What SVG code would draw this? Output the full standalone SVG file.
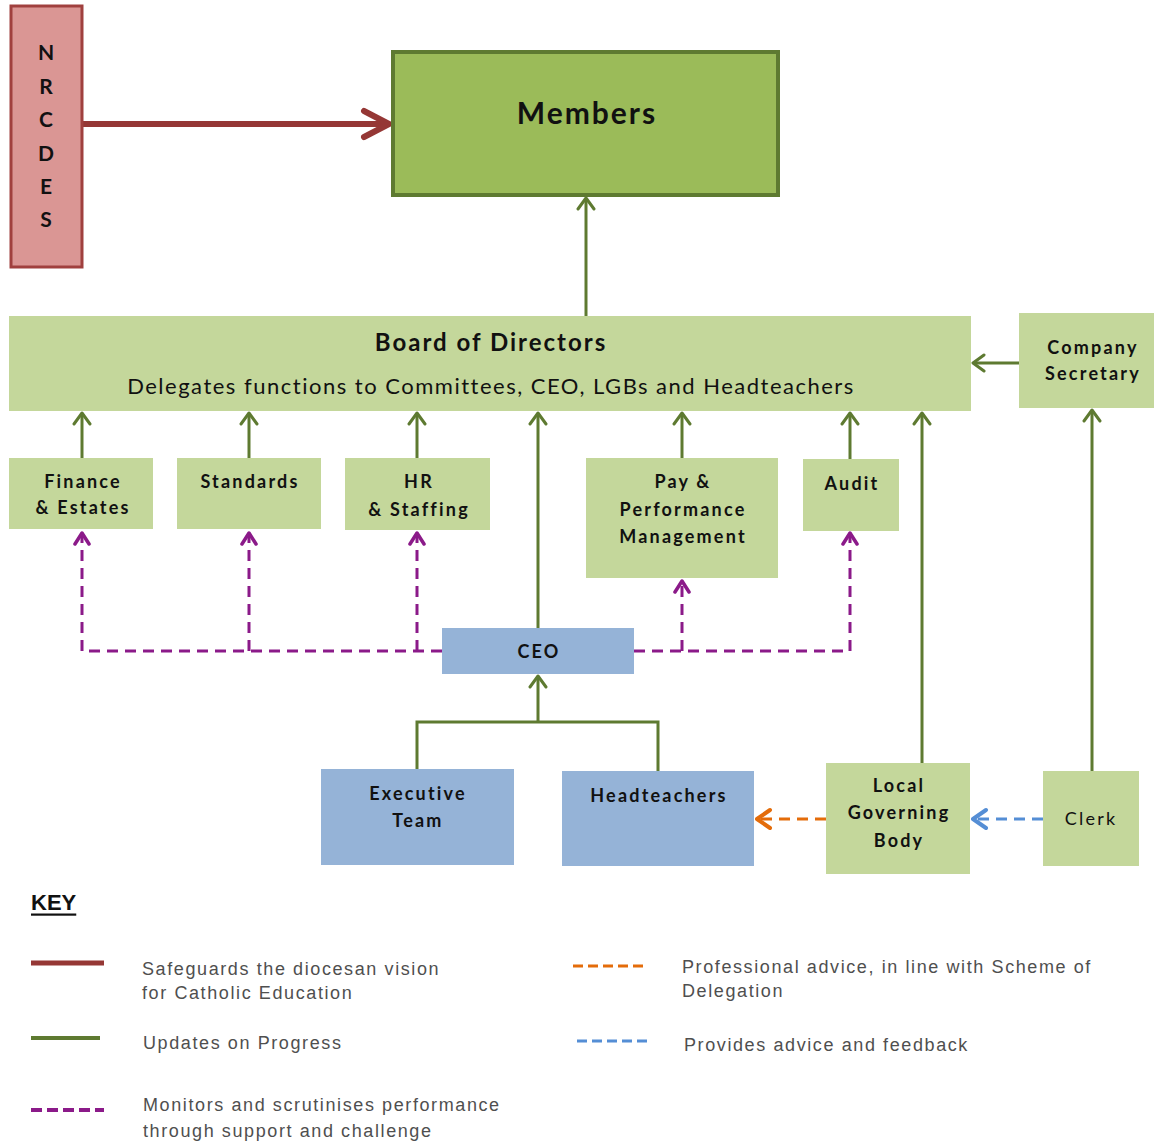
<svg xmlns="http://www.w3.org/2000/svg" width="1154" height="1142" viewBox="0 0 1154 1142">
<style>
.t{font-family:"Lato","Liberation Sans",sans-serif;fill:#111;text-anchor:middle;dominant-baseline:central}
.b{font-weight:bold}
.n{font-size:18px;letter-spacing:2.2px}
.lg{fill:#C4D79B}
.bl{fill:#95B3D7}
.g{stroke:#5E7A31;stroke-width:3;fill:none}
.p{stroke:#8B1A89;stroke-width:3;fill:none;stroke-dasharray:11 7}
.o{stroke:#E46C0A;stroke-width:3;fill:none;stroke-dasharray:11 7}
.u{stroke:#558ED5;stroke-width:3;fill:none;stroke-dasharray:11 7}
.k{font-family:"Liberation Sans",sans-serif;font-size:18px;letter-spacing:1.6px;fill:#4f4f4f;dominant-baseline:central}
</style>
<defs>
<marker id="ag" viewBox="-14 -10 16 20" refX="0" refY="0" markerWidth="16" markerHeight="20" markerUnits="userSpaceOnUse" orient="auto">
<path d="M-11,-8 L0,0 L-11,8" fill="none" stroke="#5E7A31" stroke-width="3" stroke-linecap="round" stroke-linejoin="round"/>
</marker>
<marker id="ap" viewBox="-14 -10 16 20" refX="0" refY="0" markerWidth="16" markerHeight="20" markerUnits="userSpaceOnUse" orient="auto">
<path d="M-11,-7 L0,0 L-11,7" fill="none" stroke="#8B1A89" stroke-width="3.5" stroke-linecap="round" stroke-linejoin="round"/>
</marker>
<marker id="ao" viewBox="-16 -12 18 24" refX="0" refY="0" markerWidth="18" markerHeight="24" markerUnits="userSpaceOnUse" orient="auto">
<path d="M-13,-9 L0,0 L-13,9" fill="none" stroke="#E46C0A" stroke-width="4" stroke-linecap="round" stroke-linejoin="round"/>
</marker>
<marker id="au" viewBox="-16 -12 18 24" refX="0" refY="0" markerWidth="18" markerHeight="24" markerUnits="userSpaceOnUse" orient="auto">
<path d="M-13,-9 L0,0 L-13,9" fill="none" stroke="#558ED5" stroke-width="4" stroke-linecap="round" stroke-linejoin="round"/>
</marker>
<marker id="ar" viewBox="-30 -17 34 34" refX="0" refY="0" markerWidth="34" markerHeight="34" markerUnits="userSpaceOnUse" orient="auto">
<path d="M-26,-13 L-1,0 L-26,13" fill="none" stroke="#953735" stroke-width="6" stroke-linecap="round" stroke-linejoin="round"/>
</marker>
</defs>

<g id="connectors">
<line x1="83" y1="124" x2="390" y2="124" stroke="#953735" stroke-width="6" marker-end="url(#ar)"/>
<line class="g" x1="586" y1="316" x2="586" y2="198" marker-end="url(#ag)"/>
<line class="g" x1="1019" y1="363" x2="973" y2="363" marker-end="url(#ag)"/>
<line class="g" x1="82" y1="458" x2="82" y2="413" marker-end="url(#ag)"/>
<line class="g" x1="249" y1="458" x2="249" y2="413" marker-end="url(#ag)"/>
<line class="g" x1="417" y1="458" x2="417" y2="413" marker-end="url(#ag)"/>
<line class="g" x1="682" y1="458" x2="682" y2="413" marker-end="url(#ag)"/>
<line class="g" x1="850" y1="459" x2="850" y2="413" marker-end="url(#ag)"/>
<line class="g" x1="538" y1="628" x2="538" y2="413" marker-end="url(#ag)"/>
<line class="g" x1="922" y1="763" x2="922" y2="413" marker-end="url(#ag)"/>
<line class="g" x1="1092" y1="771" x2="1092" y2="410" marker-end="url(#ag)"/>
<path class="g" d="M417,769 V722 H658 V771"/>
<line class="g" x1="538" y1="722" x2="538" y2="676" marker-end="url(#ag)"/>
<path class="p" d="M442,651 H82"/>
<path class="p" d="M82,651 V533" marker-end="url(#ap)"/>
<path class="p" d="M249,651 V533" marker-end="url(#ap)"/>
<path class="p" d="M417,651 V533" marker-end="url(#ap)"/>
<path class="p" d="M634,651 H850 V533" marker-end="url(#ap)"/>
<path class="p" d="M682,651 V581" marker-end="url(#ap)"/>
<line class="o" x1="826" y1="819" x2="757" y2="819" marker-end="url(#ao)"/>
<line class="u" x1="1043" y1="819" x2="973" y2="819" marker-end="url(#au)"/>
</g>

<g id="nrcdes">
<rect x="11" y="6" width="71" height="261" fill="#DA9694" stroke="#A0403E" stroke-width="3"/>
<text class="t b" font-size="21" x="46" y="51">N</text>
<text class="t b" font-size="21" x="46" y="85">R</text>
<text class="t b" font-size="21" x="46" y="118">C</text>
<text class="t b" font-size="21" x="46" y="152">D</text>
<text class="t b" font-size="21" x="46" y="185">E</text>
<text class="t b" font-size="21" x="46" y="218">S</text>
</g>

<g id="members">
<rect x="393" y="52" width="385" height="143" fill="#9BBB59" stroke="#5E7A31" stroke-width="4"/>
<text class="t b" font-size="30" letter-spacing="2" x="587" y="112">Members</text>
</g>

<g id="board">
<rect class="lg" x="9" y="316" width="962" height="95"/>
<text class="t b" font-size="24" letter-spacing="2" x="491" y="341">Board of Directors</text>
<text class="t" font-size="22" letter-spacing="1.5" x="491" y="385">Delegates functions to Committees, CEO, LGBs and Headteachers</text>
</g>

<g id="company-secretary">
<rect class="lg" x="1019" y="313" width="135" height="95"/>
<text class="t b n" x="1093" y="347">Company</text>
<text class="t b n" x="1093" y="373">Secretary</text>
</g>

<g id="finance">
<rect class="lg" x="9" y="458" width="144" height="71"/>
<text class="t b n" x="83" y="481">Finance</text>
<text class="t b n" x="83" y="507">&amp; Estates</text>
</g>

<g id="standards">
<rect class="lg" x="177" y="458" width="144" height="71"/>
<text class="t b n" x="250" y="481">Standards</text>
</g>

<g id="hr">
<rect class="lg" x="345" y="458" width="145" height="72"/>
<text class="t b n" x="419" y="481">HR</text>
<text class="t b n" x="419" y="509">&amp; Staffing</text>
</g>

<g id="pay">
<rect class="lg" x="586" y="458" width="192" height="120"/>
<text class="t b n" x="683" y="481">Pay &amp;</text>
<text class="t b n" x="683" y="509">Performance</text>
<text class="t b n" x="683" y="536">Management</text>
</g>

<g id="audit">
<rect class="lg" x="803" y="459" width="96" height="72"/>
<text class="t b n" x="852" y="483">Audit</text>
</g>

<g id="ceo">
<rect class="bl" x="442" y="628" width="192" height="46"/>
<text class="t b n" x="539" y="651">CEO</text>
</g>

<g id="executive-team">
<rect class="bl" x="321" y="769" width="193" height="96"/>
<text class="t b n" x="418" y="793">Executive</text>
<text class="t b n" x="418" y="820">Team</text>
</g>

<g id="headteachers">
<rect class="bl" x="562" y="771" width="192" height="95"/>
<text class="t b n" x="659" y="795">Headteachers</text>
</g>

<g id="lgb">
<rect class="lg" x="826" y="763" width="144" height="111"/>
<text class="t b n" x="899" y="785">Local</text>
<text class="t b n" x="899" y="812">Governing</text>
<text class="t b n" x="899" y="840">Body</text>
</g>

<g id="clerk">
<rect class="lg" x="1043" y="771" width="96" height="95"/>
<text class="t n" x="1091" y="818" fill="#333">Clerk</text>
</g>

<g id="key">
<text x="31" y="902" font-family="Liberation Sans, sans-serif" font-size="22" font-weight="bold" fill="#111" text-decoration="underline" dominant-baseline="central">KEY</text>
<line x1="31" y1="963" x2="104" y2="963" stroke="#953735" stroke-width="5"/>
<text class="k" x="142" y="969">Safeguards the diocesan vision</text>
<text class="k" x="142" y="993">for Catholic Education</text>
<line x1="31" y1="1038" x2="100" y2="1038" stroke="#5E7A31" stroke-width="4"/>
<text class="k" x="143" y="1043">Updates on Progress</text>
<line x1="31" y1="1110" x2="104" y2="1110" stroke="#8B1A89" stroke-width="4" stroke-dasharray="11 5"/>
<text class="k" x="143" y="1105">Monitors and scrutinises performance</text>
<text class="k" x="143" y="1131">through support and challenge</text>
<line x1="573" y1="966" x2="646" y2="966" stroke="#E46C0A" stroke-width="3" stroke-dasharray="10 5"/>
<text class="k" x="682" y="967">Professional advice, in line with Scheme of</text>
<text class="k" x="682" y="991">Delegation</text>
<line x1="577" y1="1041" x2="650" y2="1041" stroke="#558ED5" stroke-width="3" stroke-dasharray="10 5"/>
<text class="k" x="684" y="1045">Provides advice and feedback</text>
</g>
</svg>
